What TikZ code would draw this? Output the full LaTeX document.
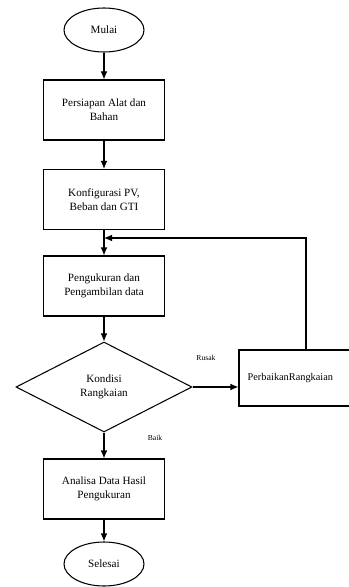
\documentclass[tikz,border=0pt]{standalone}
\usepackage{fontspec}
\setmainfont{Liberation Serif}
\usetikzlibrary{positioning,shapes.geometric,arrows.meta}
\tikzset{
  flowNode/.style={draw=black, line width=0.9pt, inner sep=1pt, align=center, font=\fontsize{9.5pt}{12pt}\selectfont},
  termNode/.style={flowNode, ellipse, minimum width=2.4cm, minimum height=1.32cm},
  procNode/.style={flowNode, rectangle, minimum width=3.63cm, minimum height=1.8cm},
  fixNode/.style={flowNode, rectangle, minimum width=4.02cm, minimum height=1.68cm, text width=3.5cm, align=left, font=\fontsize{8.8pt}{11pt}\selectfont},
  decNode/.style={flowNode, diamond, minimum width=5.28cm, minimum height=2.7cm, inner sep=0pt},
  flowArrow/.style={-{Latex[length=2.4mm, width=2mm]}, line width=0.9pt},
  flowLabel/.style={font=\fontsize{6.5pt}{7pt}\selectfont}
}
\begin{document}
\begin{tikzpicture}[x=0.03cm, y=-0.03cm]
  \useasboundingbox (0,0) rectangle (349,587);

  % Alur utama
  \node[termNode] (mulai) at (104, 30) {Mulai};
  \node[procNode] (siap) at (104, 110) {Persiapan Alat dan\\Bahan};
  \node[procNode] (konfig) at (104, 199.5) {Konfigurasi PV,\\Beban dan GTI};
  \node[procNode] (ukur) at (104, 286) {Pengukuran dan\\Pengambilan data};
  \node[decNode] (kondisi) at (104, 387) {Kondisi\\Rangkaian};
  \node[procNode] (analisa) at (104, 489) {Analisa Data Hasil\\Pengukuran};
  \node[termNode] (selesai) at (104, 564) {Selesai};

  % Perbaikan
  \node[fixNode] (perbaikan) at (306, 378) {PerbaikanRangkaian};
  \coordinate (gabung) at (104, 238);

  % Panah
  \draw[flowArrow] (mulai) -- (siap);
  \draw[flowArrow] (siap) -- (konfig);
  \draw[flowArrow] (konfig) -- (ukur);
  \draw[flowArrow] (ukur) -- (kondisi);
  \draw[flowArrow] (kondisi) -- (analisa);
  \draw[flowArrow] (analisa) -- (selesai);
  \draw[flowArrow] (kondisi.east) -- (kondisi.east -| perbaikan.west);
  \draw[flowArrow] (perbaikan.north) |- (gabung);

  % Keterangan
  \node[flowLabel] (rusak) at (206, 358) {Rusak};
  \node[flowLabel] (baik) at (155, 438) {Baik};
\end{tikzpicture}
\end{document}
